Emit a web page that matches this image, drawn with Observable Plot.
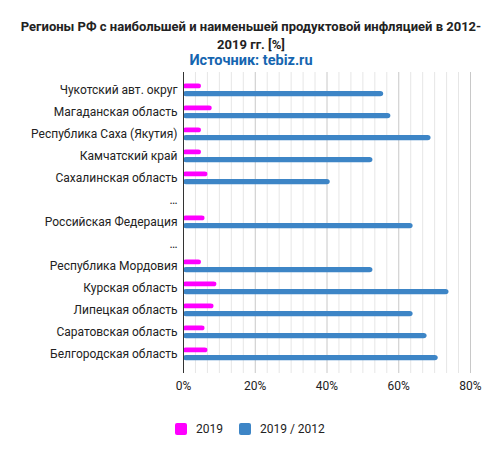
<!DOCTYPE html>
<html>
<head>
<meta charset="utf-8">
<script src="https://cdn.jsdelivr.net/npm/d3@7"></script>
<script src="https://cdn.jsdelivr.net/npm/@observablehq/plot@0.6"></script>
<style>
  body { margin: 0; background: #fff; font-family: Roboto, "Noto Sans", sans-serif; }
  #wrap { width: 502px; height: 462px; position: relative; }
  .title { position: absolute; top: 18px; left: 0; width: 502px; text-align: center; font-weight: bold; font-size: 13px; line-height: 18px; color: #222; }
  .sub { position: absolute; top: 51px; left: 0; width: 502px; text-align: center; font-weight: bold; font-size: 14.5px; line-height: 20px; color: #1565b0; }
  #chart { position: absolute; top: 70px; left: 0; }
  .legend { position: absolute; top: 421px; left: 175px; font-size: 12px; color: #222; display: flex; align-items: center; }
  .sw { width: 12px; height: 12px; border-radius: 2px; display: inline-block; margin-right: 9px; }
  .item { display: flex; align-items: center; margin-right: 16px; line-height: 16px; }
</style>
</head>
<body>
<div id="wrap">
  <div class="title">Регионы РФ с наибольшей и наименьшей продуктовой инфляцией в 2012-<br>2019 гг. [%]</div>
  <div class="sub">Источник: tebiz.ru</div>
  <div id="chart"></div>
  <div class="legend" id="legend"></div>
</div>
<script>
const regions = [
  "Чукотский авт. округ",
  "Магаданская область",
  "Республика Саха (Якутия)",
  "Камчатский край",
  "Сахалинская область",
  "…1",
  "Российская Федерация",
  "…2",
  "Республика Мордовия",
  "Курская область",
  "Липецкая область",
  "Саратовская область",
  "Белгородская область"
];
const series = ["2019", "2019 / 2012"];
const colors = ["#ff00ff", "#3d85c6"];
const values2019 = [5, 8, 5, 5, 6.8, null, 6, null, 5, 9.3, 8.5, 6, 6.8];
const values2019_2012 = [55.8, 57.8, 69, 52.8, 40.9, null, 64, null, 52.8, 74, 64, 67.9, 71];
const xTicks = [0, 20, 40, 60, 80];

const rows = [];
regions.forEach((r, i) => {
  if (values2019[i] != null) rows.push({region: r, series: series[0], value: values2019[i]});
  if (values2019_2012[i] != null) rows.push({region: r, series: series[1], value: values2019_2012[i]});
});
const minor = d3.range(0, 80.001, 20 / 6).filter(v => !xTicks.some(t => Math.abs(t - v) < 1e-6));

const chart = Plot.plot({
  width: 502,
  height: 327,
  marginLeft: 183,
  marginRight: 32,
  marginTop: 5.4,
  marginBottom: 28,
  style: {fontFamily: "Roboto, sans-serif", fontSize: "12px", color: "#222", background: "transparent"},
  x: {domain: [0, 80], ticks: xTicks, tickFormat: d => d + "%", tickSize: 0, tickPadding: 12, label: null},
  y: {domain: regions, padding: 0, tickSize: 0, tickPadding: 6, label: null, tickFormat: d => d.startsWith("…") ? "…" : d},
  marks: [
    Plot.ruleX(minor, {stroke: "#e6e6e6", strokeWidth: 1, insetTop: -3.4, insetBottom: -4}),
    Plot.ruleX(xTicks.slice(1), {stroke: "#c8c8c8", strokeWidth: 1, insetTop: -3.4, insetBottom: -4}),
    Plot.barX(rows.filter(d => d.series === series[0]), {
      x: "value", y: "region", fill: colors[0], rx: 2.7, insetTop: 4.6, insetBottom: 12.7
    }),
    Plot.barX(rows.filter(d => d.series === series[1]), {
      x: "value", y: "region", fill: colors[1], rx: 3, insetTop: 11.9, insetBottom: 4.7
    }),
    Plot.ruleX([0], {stroke: "#333", strokeWidth: 1, insetTop: -3.4, insetBottom: -4})
  ]
});
document.getElementById("chart").appendChild(chart);

const leg = document.getElementById("legend");
series.forEach((s, i) => {
  const it = document.createElement("div");
  it.className = "item";
  const sw = document.createElement("span");
  sw.className = "sw";
  sw.style.background = colors[i];
  it.appendChild(sw);
  it.appendChild(document.createTextNode(s));
  leg.appendChild(it);
});
</script>
</body>
</html>
